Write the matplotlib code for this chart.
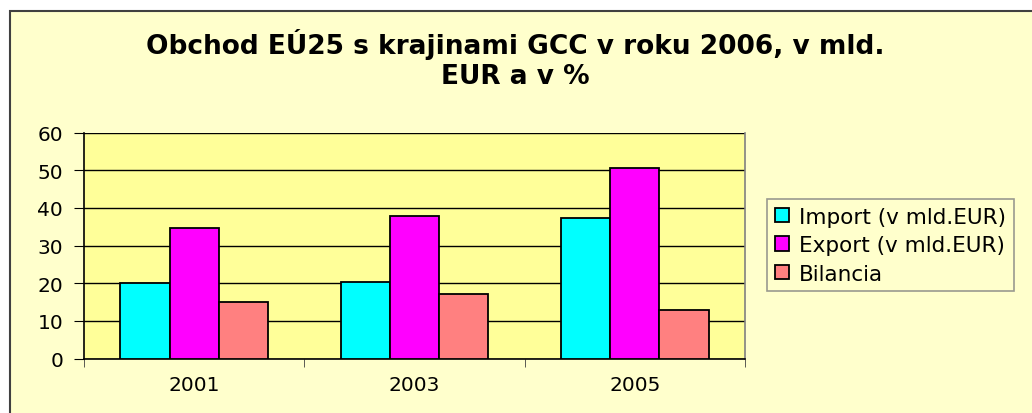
import numpy as np
import matplotlib.pyplot as plt
from matplotlib.patches import Rectangle

plt.rcParams['font.family'] = ['DejaVu Sans']

years = ['2001', '2003', '2005']
imports = [20.0, 20.3, 37.2]
exports = [34.6, 37.7, 50.5]
bilancia = [14.9, 17.1, 12.9]

series = [
    ('Import (v mld.EUR)', imports, '#00FFFF'),
    ('Export (v mld.EUR)', exports, '#FF00FF'),
    ('Bilancia', bilancia, '#FF8080'),
]

W, H = 1032, 414
fig = plt.figure(figsize=(W / 100, H / 100), dpi=100)
fig.patch.set_facecolor('white')

# chart area (light yellow with dark border)
bg = fig.add_axes([0, 0, 1, 1], zorder=-1)
bg.set_xlim(0, W)
bg.set_ylim(H, 0)
bg.axis('off')
bg.add_patch(Rectangle((10, 12), W + 20, H + 20, facecolor='#FFFFCC',
                       edgecolor='#404040', linewidth=1.5))

ax = fig.add_axes([84 / W, 1 - 359.5 / H, 661 / W, 226 / H])
ax.set_facecolor('#FFFF99')

x = np.arange(len(years))
w = 0.223
for i, (name, vals, col) in enumerate(series):
    ax.bar(x + (i - 1) * w, vals, w, color=col, edgecolor='black',
           linewidth=1.3, label=name, zorder=3)

ax.set_xlim(-0.5, 2.5)
ax.set_ylim(0, 60)
ax.set_yticks(range(0, 61, 10))
ax.yaxis.grid(True, color='black', linewidth=1.0, zorder=1)
ax.set_axisbelow(True)

ax.set_xticks(x)
ax.set_xticklabels(years)
ax.set_xticks([-0.5, 0.5, 1.5, 2.5], minor=True)
ax.tick_params(axis='x', which='major', length=0, pad=12, labelsize=14.5)
ax.tick_params(axis='x', which='minor', length=6, color='#404040', direction='out')
ax.tick_params(axis='y', length=7, direction='out', pad=8, labelsize=14.5)

for s in ['left', 'bottom']:
    ax.spines[s].set_color('black')
    ax.spines[s].set_linewidth(1.2)
ax.spines['top'].set_visible(False)
ax.spines['right'].set_color('#808080')
ax.spines['right'].set_linewidth(1.2)

fig.text(515 / W, 1 - 45 / H, 'Obchod EÚ25 s krajinami GCC v roku 2006, v mld.',
         ha='center', va='center', fontsize=19, fontweight='bold')
fig.text(515 / W, 1 - 77 / H, 'EUR a v %',
         ha='center', va='center', fontsize=19, fontweight='bold')

leg = fig.legend(loc='upper left', bbox_to_anchor=(767 / W, 1 - 200 / H),
                 fontsize=15.5, frameon=True, fancybox=False, handlelength=0.65,
                 handleheight=0.65, handletextpad=0.5, labelspacing=0.4,
                 borderpad=0.35, borderaxespad=0)
leg.get_frame().set_edgecolor('#808080')
leg.get_frame().set_facecolor('#FFFFCC')
leg.get_frame().set_linewidth(1.2)

fig.savefig('out.png', dpi=100)
